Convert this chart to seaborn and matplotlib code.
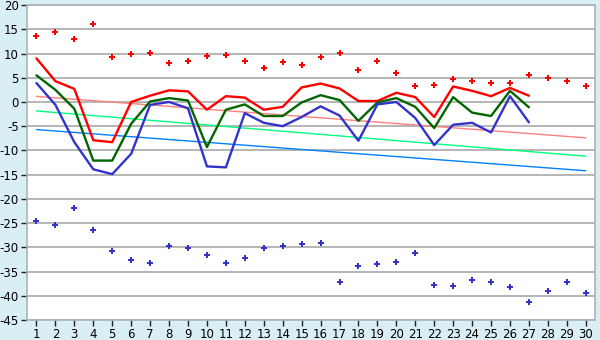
import numpy as np
import pandas as pd
import matplotlib
matplotlib.use("Agg")
import matplotlib.pyplot as plt
import seaborn as sns

days = list(range(1, 31))
line_days = list(range(1, 28))

red_line = [9.0, 4.3, 2.7, -7.9, -8.3, 0.0, 1.3, 2.4, 2.2, -1.6, 1.2, 0.9, -1.6, -1.0, 3.0,
            3.8, 2.8, 0.2, 0.2, 1.9, 1.0, -3.1, 3.2, 2.3, 1.2, 2.9, 1.3]
green_line = [5.5, 2.5, -1.4, -12.1, -12.1, -4.5, 0.1, 0.8, 0.3, -9.3, -1.6, -0.5, -2.9, -2.9, -0.1,
              1.4, 0.4, -3.9, -0.1, 0.8, -1.0, -5.4, 1.0, -2.2, -2.9, 2.3, -1.1]
blue_line = [3.9, -0.6, -8.3, -13.9, -14.9, -10.7, -0.6, 0.0, -1.3, -13.3, -13.5, -2.3, -4.3, -5.0, -3.1,
             -0.9, -2.8, -8.0, -0.5, 0.0, -3.3, -8.9, -4.7, -4.3, -6.3, 1.2, -4.2]

red_points = [13.6, 14.5, 12.9, 16.2, 9.2, 10.0, 10.2, 8.0, 8.5, 9.4, 9.8, 8.5, 7.1, 8.3, 7.6,
              9.2, 10.2, 6.7, 8.5, 5.9, 3.2, 3.6, 4.8, 4.4, 4.0, 4.0, 5.6, 5.0, 4.4, 3.2]
blue_points = [-24.5, -25.5, -21.9, -26.4, -30.8, -32.6, -33.2, -29.7, -30.1, -31.6, -33.2, -32.2,
               -30.1, -29.7, -29.3, -29.1, -37.2, -33.9, -33.5, -33.0, -31.2, -37.8, -38.0, -36.8,
               -37.2, -38.2, -41.3, -39.0, -37.2, -39.4]

# straight trend lines, from day 1 to day 30
trend_days = [1, 30]
red_trend = [1.15, -7.4]
green_trend = [-1.85, -11.2]
blue_trend = [-5.7, -14.2]

y_ticks = list(range(-45, 21, 5))

sns.set_style("white")
plt.rcParams["font.family"] = ["DejaVu Sans"]

bg = "#daeef5"
fig = plt.figure(figsize=(6, 3.4), dpi=100, facecolor=bg)
ax = fig.add_axes([0.045, 0.059, 0.947, 0.926])
ax.set_facecolor("white")

for y in y_ticks:
    ax.axhline(y, color="#b0b0b0", lw=1.3, zorder=0)

sns.lineplot(x=trend_days, y=red_trend, color="#ff8080", lw=1.0, ax=ax)
sns.lineplot(x=trend_days, y=green_trend, color="#00ff80", lw=1.0, ax=ax)
sns.lineplot(x=trend_days, y=blue_trend, color="#0080ff", lw=1.0, ax=ax)

sns.lineplot(x=line_days, y=red_line, color="#ff0000", lw=1.7, ax=ax)
sns.lineplot(x=line_days, y=green_line, color="#006600", lw=1.7, ax=ax)
sns.lineplot(x=line_days, y=blue_line, color="#3333cc", lw=1.7, ax=ax)

sns.scatterplot(x=days, y=red_points, color="#ff0000", marker="P", s=18, linewidth=0, ax=ax)
sns.scatterplot(x=days, y=blue_points, color="#3333cc", marker="P", s=18, linewidth=0, ax=ax)

ax.set_xlim(0.5, 30.5)
ax.set_ylim(-45, 20)
ax.set_xticks(days)
ax.set_xticklabels([str(d) for d in days])
ax.set_yticks(y_ticks)
ax.set_yticklabels([str(v) for v in y_ticks])
ax.tick_params(axis="both", which="both", direction="out", length=4, width=1,
               color="#202020", labelcolor="black", labelsize=8.5, pad=2,
               left=True, bottom=True)
for side, sp in ax.spines.items():
    sp.set_color("#a8b4b8")
    sp.set_linewidth(1.2)
ax.set_xlabel("")
ax.set_ylabel("")

fig.savefig("out.png", dpi=100, facecolor=bg)
